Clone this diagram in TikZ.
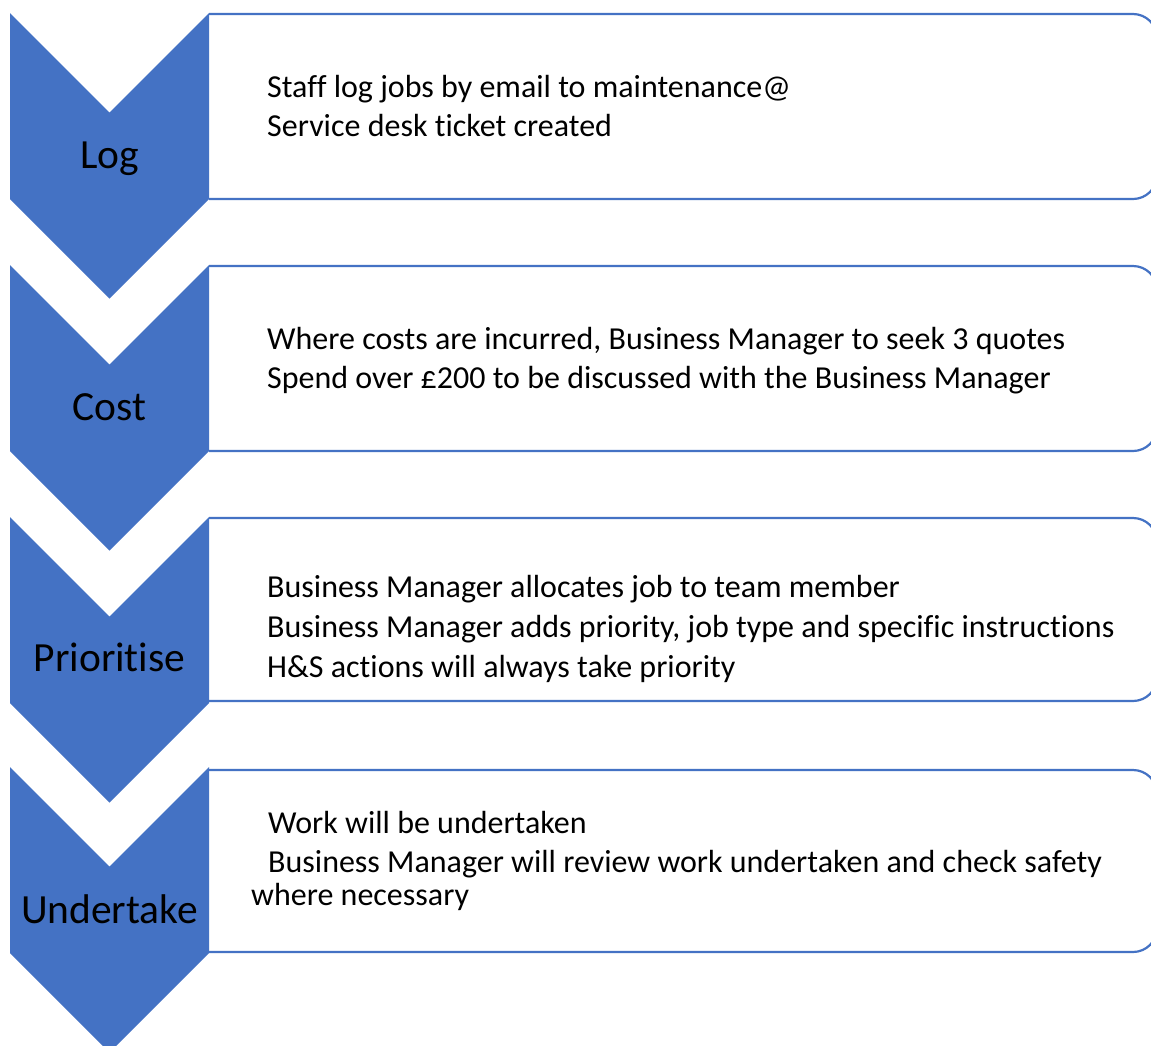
\documentclass[tikz,border=0pt]{standalone}
\usepackage{fontspec}
\setmainfont[RawFeature={-liga}]{Carlito}
\definecolor{sablue}{HTML}{4472C4}
\tikzset{
  chev/.style={fill=sablue, draw=none},
  boxline/.style={draw=sablue, line width=2.2pt, rounded corners=24pt},
  lab/.style={anchor=base, inner sep=0pt, font=\fontsize{41.5}{50}\selectfont},
  body/.style={anchor=base west, inner sep=0pt, font=\fontsize{32}{39}\selectfont},
}
\begin{document}
\begin{tikzpicture}[x=1pt,y=-1pt]
\useasboundingbox (0,0) rectangle (1151,1045);
\fill[white] (0,0) rectangle (1151,1045);
% boxes and chevrons
\foreach \t/\b in {14/199, 266/451, 518/701, 770/952}{
  \draw[boxline] (209,\t) -- (1157,\t) -- (1157,\b) -- (209,\b);
}
\foreach \t in {13, 265, 517, 767}{
  \path[chev] (10,\t) -- (109.5,\t+99.5) -- (209,\t) -- (209,\t+186) -- (109.5,\t+285.5) -- (10,\t+186) -- cycle;
}
% labels
\node[lab] (l1) at (109.5,168) {Log};
\node[lab] (l2) at (109.5,420) {Cost};
\node[lab] (l3) at (109.5,671) {Prioritise};
\node[lab] (l4) at (109.5,923) {Undertake};
% body text
\node[body] (t11) at (267,97) {Staff log jobs by email to maintenance@};
\node[body] (t12) at (267,136) {Service desk ticket created};
\node[body] (t21) at (267,349) {Where costs are incurred, Business Manager to seek 3 quotes};
\node[body] (t22) at (267,388) {Spend over £200 to be discussed with the Business Manager};
\node[body] (t31) at (267,597) {Business Manager allocates job to team member};
\node[body] (t32) at (267,637) {Business Manager adds priority, job type and specific instructions};
\node[body] (t33) at (267,677) {H\&S actions will always take priority};
\node[body] (t41) at (268,833) {Work will be undertaken};
\node[body] (t42) at (268,872) {Business Manager will review work undertaken and check safety};
\node[body] (t43) at (251,905) {where necessary};
\end{tikzpicture}
\end{document}
